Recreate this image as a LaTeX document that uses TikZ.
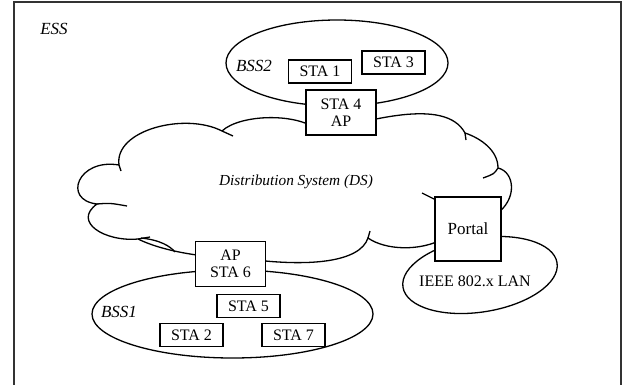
\documentclass[tikz,border=0pt]{standalone}
\usepackage{fontspec}
\setmainfont{Liberation Serif}
\usetikzlibrary{shapes.geometric}

\begin{document}
\begin{tikzpicture}[x=1pt, y=-1pt, line width=1.3pt, font=\fontsize{16}{17}\selectfont]
		
		\tikzstyle{sta}=[draw, fill=white, minimum width=63pt, minimum height=23pt,
		inner sep=0pt, align=center]
		\tikzstyle{apbox}=[sta, minimum width=70pt, minimum height=45pt]
		\tikzstyle{bss}=[ellipse, draw, inner sep=0pt]
		\tikzstyle{tag}=[font=\fontsize{17}{18}\selectfont\itshape]
		
		\useasboundingbox (0,0) rectangle (623,385);
		
		% ESS frame
		\draw[line width=1.2pt, black!80] (14,2) rectangle (621,388);
		\node[tag] (ess) at (54,29) {ESS};
		
		% BSS areas and the wired LAN
		\node[bss, minimum width=222pt, minimum height=86pt] (bss2) at (337,63) {};
		\node[bss, minimum width=281pt, minimum height=88pt] (bss1) at (232.5,314) {};
		\node[bss, rotate=9, minimum width=156pt, minimum height=74pt] (lan) at (480,275) {};
		\node[tag] (bss2tag) at (254,66) {BSS2};
		\node[tag] (bss1tag) at (119,312) {BSS1};
		\node (lantag) at (475,281) {IEEE 802.x LAN};
		
		% Distribution system cloud
		\draw (222,131)
		.. controls (240,114) and (300,112) .. (320,132)
		.. controls (365,122) and (445,96) .. (465,133)
		.. controls (480,138) and (498,150) .. (498,168)
		.. controls (515,172) and (518,200) .. (495,215)
		-- (445,238)
		.. controls (420,252) and (385,250) .. (368,238)
		.. controls (360,262) and (310,268) .. (240,258)
		.. controls (200,258) and (160,250) .. (138,239)
		.. controls (105,242) and (72,222) .. (97,204)
		.. controls (62,200) and (78,158) .. (119,165)
		.. controls (114,130) and (185,112) .. cycle;
		
		% inner arcs of the cloud
		\draw (222,131) -- (233,136);
		\draw (119,165) -- (121,171);
		\draw (97,204) .. controls (110,203) .. (127,206);
		\draw (138,239) -- (150,237);
		\draw (141,238) .. controls (160,240) and (170,246) .. (175,252);
		\draw (465,133) -- (466,140);
		\draw (498,168) .. controls (494,174) .. (483,178);
		\draw (440,202) -- (422,193);
		\draw (368,238) -- (370,231);
		
		\node[tag, font=\fontsize{15.3}{17}\selectfont\itshape] (ds) at (296,182)
		{Distribution System (DS)};
		
		% Stations
		\node[sta] (sta1) at (320,71.5) {STA 1};
		\node[sta] (sta3) at (393.5,62.5) {STA 3};
		\node[apbox] (sta4) at (341,112.5) {STA 4\\AP};
		\node[apbox] (sta6) at (230.5,264) {AP\\STA 6};
		\node[sta] (sta5) at (248.5,306) {STA 5};
		\node[sta] (sta2) at (191.5,335) {STA 2};
		\node[sta] (sta7) at (293.5,335) {STA 7};
		
		% Portal to the LAN
		\node[sta, minimum width=66pt, minimum height=64pt,
		font=\fontsize{17}{18}\selectfont] (portal) at (468,229) {Portal};
		
\end{tikzpicture}
\end{document}
